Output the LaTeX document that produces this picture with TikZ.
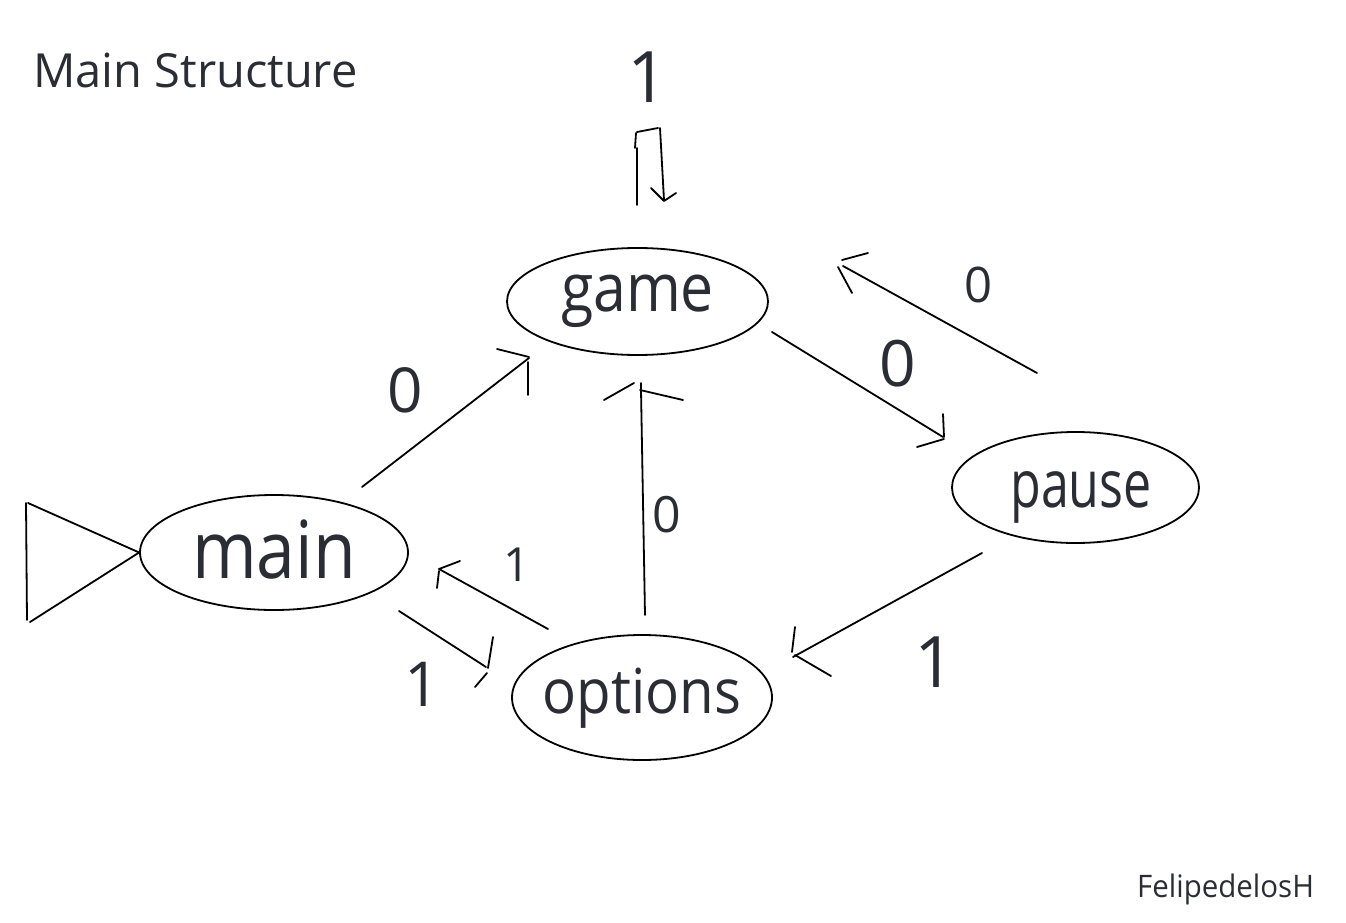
\documentclass[tikz,border=0pt]{standalone}
\usepackage{fontspec}
\setmainfont{Open Sans}
\usepackage{graphicx}
\usetikzlibrary{shapes.geometric}
\definecolor{ink}{HTML}{2B2D35}
\newcommand{\fsz}[1]{\fontsize{#1}{#1}\selectfont}
\begin{document}
\begin{tikzpicture}[x=1pt,y=-1pt,
  ln/.style={line width=1.8pt, line cap=round, line join=round},
  state/.style={ellipse, draw, line width=1.8pt, inner sep=0pt},
  txt/.style={inner sep=0pt, text=ink},
]
\fill[white] (0,0) rectangle (1346,923);
\useasboundingbox (0,0) rectangle (1346,923);

% title and signature
\node[txt, anchor=base west] (title) at (33,88) {\fsz{47}Main Structure};
\node[txt, anchor=base west] (sign) at (1137,897) {\scalebox{0.95}[1]{\fsz{31}FelipedelosH}};

% states
\node[state, minimum width=261pt, minimum height=107pt] (game) at (637.5,301.5) {};
\node[state, minimum width=268pt, minimum height=115pt] (main) at (274,552.5) {};
\node[state, minimum width=247pt, minimum height=111pt] (pause) at (1075.5,487.5) {};
\node[state, minimum width=260pt, minimum height=125pt] (options) at (642,697.5) {};

\node[txt, anchor=base] (gameT) at (637.5,311) {\scalebox{0.88}[1]{\fsz{67}game}};
\node[txt, anchor=base] (mainT) at (274,578) {\scalebox{0.87}[1]{\fsz{80}main}};
\node[txt, anchor=base] (pauseT) at (1081,507) {\scalebox{0.76}[1]{\fsz{66}pause}};
\node[txt, anchor=base] (optionsT) at (642,713) {\scalebox{0.91}[1]{\fsz{62}options}};

% start marker
\coordinate (s1) at (26,503);
\coordinate (s2) at (27,620);
\coordinate (s3) at (28,503);
\coordinate (s4) at (30,622);
\draw[ln] (s1) -- (s2);
\draw[ln] (s3) -- (main.west);
\draw[ln] (s4) -- (main.west);

% main -> game
\coordinate (mg1) at (362,487);
\coordinate (mg2) at (529,358);
\draw[ln] (mg1) -- (mg2);
\draw[ln] (497,349) -- (529,357) (528,362) -- (528,395);
\node[txt] (lmg) at (405,390.5) {\fsz{62}0};

% game self loop
\coordinate (gl1) at (637,205);
\coordinate (gl2) at (664,200);
\draw[ln] (gl1) -- (637,148);
\draw[ln] (635,148) -- (636,133);
\draw[ln] (637,132) -- (658,128);
\draw[ln] (660,128) -- (gl2);
\draw[ln] (651,188) -- (664,201) -- (676,193);
\node[txt] (lgg) at (648,77) {\fsz{71}1};

% game -> pause
\coordinate (gp1) at (772,332);
\coordinate (gp2) at (943,437);
\draw[ln] (gp1) -- (gp2);
\draw[ln] (943,414) -- (944,437) (917,447) -- (944,439);
\node[txt] (lgp) at (898,363.5) {\fsz{64}0};

% pause -> game
\coordinate (pg1) at (1037,373);
\coordinate (pg2) at (843,266);
\draw[ln] (pg1) -- (pg2);
\draw[ln] (842,260) -- (868,253) (838,267) -- (852,293);
\node[txt] (lpg) at (978,285) {\fsz{49}0};

% options -> game
\coordinate (og1) at (645,615);
\coordinate (og2) at (641,390);
\draw[ln] (og1) -- (og2);
\draw[ln] (641,383) -- (641,389);
\draw[ln] (604,400) -- (634,383) (640,390) -- (683,400);
\node[txt] (log) at (667,515) {\fsz{50}0};

% options -> main
\coordinate (om1) at (548,629);
\coordinate (om2) at (439,569);
\draw[ln] (om1) -- (om2);
\draw[ln] (439,569) -- (460,561) (439,571) -- (437,588);
\node[txt] (lom) at (517,565) {\fsz{47}1};

% main -> options
\coordinate (mo1) at (399,611);
\coordinate (mo2) at (486,667);
\draw[ln] (mo1) -- (mo2);
\draw[ln] (493,637) -- (488,668) (487,673) -- (475,687);
\node[txt] (lmo) at (422,684.5) {\fsz{62}1};

% pause -> options
\coordinate (po1) at (982,553);
\coordinate (po2) at (793,657);
\draw[ln] (po1) -- (po2);
\draw[ln] (795,627) -- (792,652) (795,655) -- (831,676);
\node[txt] (lpo) at (935,662.5) {\fsz{71}1};
\end{tikzpicture}
\end{document}
